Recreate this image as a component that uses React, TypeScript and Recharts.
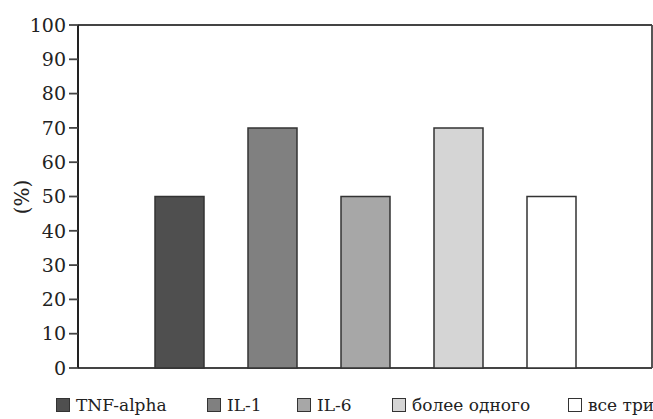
import React from 'react';
import { BarChart, Bar, XAxis, YAxis, CartesianGrid } from 'recharts';

const categories = [''];
const seriesNames = ['TNF-alpha', 'IL-1', 'IL-6', 'более одного', 'все три'];
const seriesKeys = ['tnf', 'il1', 'il6', 'more', 'all'];
const seriesValues = [50, 70, 50, 70, 50];
const seriesColors = ['#4f4f4f', '#808080', '#a7a7a7', '#d5d5d5', '#ffffff'];
const yTicks = [0, 10, 20, 30, 40, 50, 60, 70, 80, 90, 100];

// layout only: left edge of each legend entry
const legendLeft = [56, 207, 297, 392, 568];

const data = categories.map((c) => {
  const row: Record<string, string | number> = { name: c };
  seriesKeys.forEach((k, i) => {
    row[k] = seriesValues[i];
  });
  return row;
});

const FONT = '"DejaVu Serif", serif';

const YLabel = () => (
  <text
    x={22}
    y={197}
    transform="rotate(-90 22 197)"
    textAnchor="middle"
    dominantBaseline="central"
    style={{ fontFamily: FONT, fontSize: 20 }}
    fill="#222"
  >
    (%)
  </text>
);

export default function App() {
  return (
    <div style={{ position: 'absolute', left: 0, top: 0, width: 653, height: 419, background: '#fff', overflow: 'hidden' }}>
      <BarChart
        width={653}
        height={419}
        data={data}
        margin={{ top: 25, right: 0, left: 0, bottom: 51 }}
        barGap={44}
        barSize={49}
      >
        <CartesianGrid vertical={false} stroke="#444" strokeWidth={1.8} />
        <XAxis dataKey="name" hide />
        <YAxis
          yAxisId="left"
          domain={[0, 100]}
          ticks={yTicks}
          interval={0}
          width={78}
          axisLine={{ stroke: '#222', strokeWidth: 2 }}
          tickLine={{ stroke: '#444', strokeWidth: 1.8 }}
          tickSize={9}
          tickMargin={3}
          tick={{ style: { fontFamily: FONT, fontSize: 19 }, fill: '#222' }}
          label={<YLabel />}
        />
        <YAxis
          yAxisId="right"
          orientation="right"
          domain={[0, 100]}
          ticks={yTicks}
          width={1}
          tick={false}
          tickLine={false}
          axisLine={{ stroke: '#444', strokeWidth: 1.8 }}
        />
        {seriesKeys.map((k, i) => (
          <Bar
            key={k}
            yAxisId="left"
            dataKey={k}
            name={seriesNames[i]}
            fill={seriesColors[i]}
            stroke="#333"
            strokeWidth={1.5}
            isAnimationActive={false}
          />
        ))}
      </BarChart>
      {seriesNames.map((n, i) => (
        <div
          key={n}
          style={{
            position: 'absolute',
            left: legendLeft[i],
            top: 394,
            height: 22,
            display: 'flex',
            alignItems: 'center',
            fontFamily: FONT,
            fontSize: 17,
            color: '#222',
            whiteSpace: 'nowrap',
          }}
        >
          <span
            style={{
              display: 'inline-block',
              width: 12,
              height: 12,
              background: seriesColors[i],
              border: '1px solid #333',
              marginRight: 6,
            }}
          />
          <span>{n}</span>
        </div>
      ))}
    </div>
  );
}
